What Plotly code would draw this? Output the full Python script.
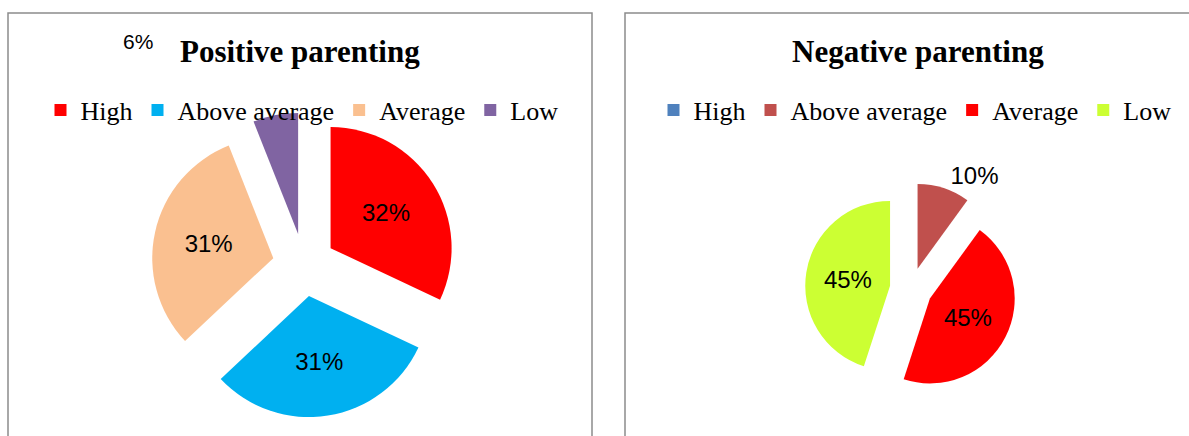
import plotly.graph_objects as go

categories = ["High", "Above average", "Average", "Low"]
positive_values = [32, 31, 31, 6]
negative_values = [0, 10, 45, 45]
positive_colors = ["#FF0000", "#00B0F0", "#FAC090", "#8064A2"]
negative_colors = ["#4F81BD", "#C0504D", "#FF0000", "#CCFF33"]
titles = ["Positive parenting", "Negative parenting"]

W, H = 1189, 436
SERIF = "Liberation Serif, Times New Roman, serif"
SANS = "Liberation Sans, Arial, sans-serif"


def px_x(x):
    return x / W


def px_y(y):
    return 1 - y / H


def pct(v):
    return f"{v}%" if v > 0 else ""


pos_text = [pct(v) for v in positive_values]
pos_text[3] = ""  # Low label placed separately (moved label in original)
neg_text = [pct(v) for v in negative_values]

fig = go.Figure()
fig.add_trace(go.Pie(
    labels=categories, values=positive_values, sort=False, direction="clockwise",
    rotation=0, pull=[0.26] * 4,
    marker=dict(colors=positive_colors, line=dict(width=0)),
    text=pos_text, textinfo="text", textposition="inside",
    insidetextorientation="horizontal",
    textfont=dict(family=SANS, size=24, color="black"),
    domain=dict(x=[px_x(151.5), px_x(456.5)], y=[px_y(417.5), px_y(112.5)]),
    legend="legend", legendgroup="pos", showlegend=True, hoverinfo="label+percent",
))
fig.add_trace(go.Pie(
    labels=categories, values=negative_values, sort=False, direction="clockwise",
    rotation=0, pull=[0.25] * 4,
    marker=dict(colors=negative_colors, line=dict(width=0)),
    text=neg_text, textinfo="text",
    textposition=["inside", "outside", "inside", "inside"],
    insidetextorientation="horizontal",
    textfont=dict(family=SANS, size=24, color="black"),
    domain=dict(x=[px_x(805), px_x(1017)], y=[px_y(395), px_y(183)]),
    legend="legend2", legendgroup="neg", showlegend=True, hoverinfo="label+percent",
))

legend_common = dict(
    orientation="h", xanchor="center", yanchor="middle",
    font=dict(family=SERIF, size=26, color="black"),
    bgcolor="rgba(0,0,0,0)", itemclick=False, itemdoubleclick=False,
    traceorder="normal", visible=True,
)

fig.update_layout(
    width=W, height=H,
    margin=dict(l=0, r=0, t=0, b=0),
    paper_bgcolor="white", plot_bgcolor="white",
    showlegend=True,
    legend=dict(x=px_x(302), y=px_y(110), **legend_common),
    legend2=dict(x=px_x(915), y=px_y(110), **legend_common),
    shapes=[
        dict(type="rect", xref="paper", yref="paper",
             x0=px_x(8), x1=px_x(592), y0=-0.1, y1=px_y(13),
             line=dict(color="#8C8C8C", width=1.5), fillcolor="rgba(0,0,0,0)"),
        dict(type="rect", xref="paper", yref="paper",
             x0=px_x(625), x1=1.05, y0=-0.1, y1=px_y(13),
             line=dict(color="#8C8C8C", width=1.5), fillcolor="rgba(0,0,0,0)"),
    ],
    annotations=[
        dict(text=f"<b>{titles[0]}</b>", x=px_x(300), y=px_y(52), xref="paper", yref="paper",
             showarrow=False, xanchor="center", yanchor="middle",
             font=dict(family=SERIF, size=31, color="black")),
        dict(text=f"<b>{titles[1]}</b>", x=px_x(918), y=px_y(52), xref="paper", yref="paper",
             showarrow=False, xanchor="center", yanchor="middle",
             font=dict(family=SERIF, size=31, color="black")),
        dict(text=pct(positive_values[3]), x=px_x(138), y=px_y(42), xref="paper", yref="paper",
             showarrow=False, xanchor="center", yanchor="middle",
             font=dict(family=SANS, size=21, color="black")),
    ],
)

fig.write_html("out.html")
